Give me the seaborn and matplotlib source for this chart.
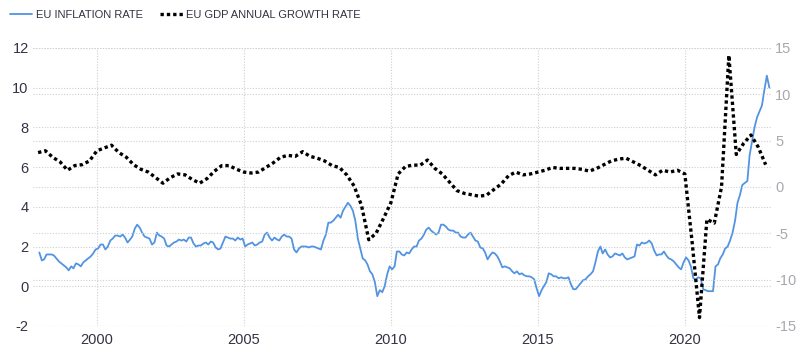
import matplotlib
matplotlib.use('Agg')
import matplotlib.pyplot as plt
import matplotlib.dates as mdates
import pandas as pd
import seaborn as sns

SET_DPI = 100
FIGSIZE = (8, 3.52)

# EU inflation rate, monthly, Jan 1998 - Nov 2022 (left axis)
inflation = [
    1.7, 1.3, 1.35, 1.6, 1.6, 1.6, 1.55, 1.4, 1.25, 1.15, 1.05, 0.95,   # 1998
    0.8, 1.0, 0.9, 1.15, 1.1, 1.0, 1.2, 1.3, 1.4, 1.5, 1.65, 1.85,      # 1999
    1.9, 2.1, 2.1, 1.85, 2.0, 2.3, 2.4, 2.55, 2.55, 2.5, 2.6, 2.45,     # 2000
    2.2, 2.35, 2.5, 2.9, 3.1, 2.95, 2.7, 2.5, 2.45, 2.4, 2.1, 2.2,      # 2001
    2.7, 2.55, 2.5, 2.4, 2.05, 2.0, 2.1, 2.2, 2.25, 2.35, 2.3, 2.35,    # 2002
    2.25, 2.45, 2.45, 2.15, 2.0, 2.05, 2.05, 2.15, 2.2, 2.1, 2.25, 2.2, # 2003
    1.95, 1.85, 1.9, 2.2, 2.5, 2.45, 2.4, 2.4, 2.3, 2.45, 2.35, 2.4,    # 2004
    2.0, 2.1, 2.15, 2.2, 2.05, 2.1, 2.2, 2.25, 2.6, 2.7, 2.45, 2.3,     # 2005
    2.45, 2.35, 2.3, 2.5, 2.6, 2.5, 2.5, 2.4, 1.85, 1.7, 1.9, 2.0,      # 2006
    2.0, 2.0, 1.95, 2.0, 2.0, 1.95, 1.9, 1.85, 2.3, 2.6, 3.2, 3.2,      # 2007
    3.3, 3.45, 3.6, 3.45, 3.8, 4.0, 4.2, 4.05, 3.8, 3.3, 2.4, 1.9,      # 2008
    1.4, 1.3, 1.1, 0.75, 0.6, 0.2, -0.5, -0.2, -0.3, 0.0, 0.6, 1.0,     # 2009
    0.85, 1.0, 1.75, 1.75, 1.6, 1.55, 1.7, 1.65, 1.85, 2.0, 2.0, 2.3,   # 2010
    2.4, 2.6, 2.85, 2.95, 2.8, 2.7, 2.6, 2.7, 3.1, 3.1, 3.0, 2.85,      # 2011
    2.8, 2.8, 2.7, 2.7, 2.5, 2.45, 2.45, 2.6, 2.7, 2.5, 2.3, 2.25,      # 2012
    1.95, 1.9, 1.7, 1.35, 1.55, 1.7, 1.65, 1.5, 1.25, 0.95, 1.0, 0.95,  # 2013
    0.9, 0.75, 0.65, 0.75, 0.6, 0.65, 0.55, 0.5, 0.5, 0.45, 0.35, -0.1, # 2014
    -0.5, -0.2, 0.0, 0.2, 0.65, 0.6, 0.5, 0.5, 0.4, 0.45, 0.4, 0.4,     # 2015
    0.45, 0.1, -0.15, -0.15, 0.0, 0.15, 0.3, 0.35, 0.5, 0.6, 0.75, 1.2, # 2016
    1.75, 2.0, 1.65, 1.85, 1.6, 1.45, 1.5, 1.65, 1.6, 1.55, 1.65, 1.45, # 2017
    1.35, 1.4, 1.45, 1.5, 2.1, 2.05, 2.2, 2.15, 2.2, 2.3, 2.15, 1.8,    # 2018
    1.55, 1.6, 1.6, 1.75, 1.55, 1.4, 1.35, 1.25, 1.1, 0.95, 0.85, 1.2,  # 2019
    1.45, 1.3, 1.0, 0.4, 0.35, 0.45, 0.4, -0.15, -0.2, -0.25, -0.25, -0.25,  # 2020
    1.0, 1.1, 1.4, 1.6, 1.9, 2.0, 2.3, 2.7, 3.3, 4.2, 4.6, 5.1,         # 2021
    5.2, 5.3, 6.6, 7.3, 8.0, 8.5, 8.8, 9.1, 9.9, 10.6, 10.0,            # 2022
]

# EU GDP annual growth rate, quarterly, Q4 1997 - Q3 2022 (right axis)
gdp_growth = [
    3.7,
    3.9, 3.2, 2.7, 1.8,      # 1998
    2.3, 2.4, 2.8, 3.9,      # 1999
    4.2, 4.5, 3.7, 3.2,      # 2000
    2.4, 1.9, 1.6, 1.0,      # 2001
    0.4, 1.0, 1.4, 1.3,      # 2002
    0.8, 0.4, 0.9, 1.7,      # 2003
    2.3, 2.3, 1.9, 1.6,      # 2004
    1.5, 1.6, 2.1, 2.6,      # 2005
    3.2, 3.4, 3.3, 3.8,      # 2006
    3.3, 3.1, 2.8, 2.3,      # 2007
    2.1, 1.3, 0.1, -2.0,     # 2008
    -5.7, -5.0, -3.4, -1.7,  # 2009
    1.4, 2.2, 2.35, 2.35,    # 2010
    2.9, 2.0, 1.4, 0.5,      # 2011
    -0.4, -0.7, -0.85, -1.0, # 2012
    -0.9, -0.3, 0.3, 1.2,    # 2013
    1.6, 1.3, 1.4, 1.6,      # 2014
    1.8, 2.1, 2.0, 2.0,      # 2015
    2.0, 1.9, 1.7, 2.0,      # 2016
    2.4, 2.8, 3.0, 3.1,      # 2017
    2.7, 2.3, 1.8, 1.3,      # 2018
    1.8, 1.6, 1.8, 1.4,      # 2019
    -6.0, -14.1, -3.5, -3.9, # 2020
    0.0, 14.2, 3.5, 4.7,     # 2021
    5.6, 4.3, 2.4,           # 2022
]

left_ticks = [-2, 0, 2, 4, 6, 8, 10, 12]
right_ticks = [-15, -10, -5, 0, 5, 10, 15]
year_ticks = [2000, 2005, 2010, 2015, 2020]

blue = '#5294e2'
grid_kw = dict(color='#cfcfcf', linewidth=0.8, linestyle=(0, (1, 1.5)))

infl_df = pd.DataFrame({
    'date': pd.date_range('1998-01-01', periods=len(inflation), freq='MS') + pd.Timedelta(days=14),
    'value': inflation,
})
gdp_df = pd.DataFrame({
    'date': pd.date_range('1997-12-31', periods=len(gdp_growth), freq='QE'),
    'value': gdp_growth,
})

sns.set_style('white')
plt.rcParams['font.family'] = ['Liberation Sans', 'DejaVu Sans']
plt.rcParams['axes.unicode_minus'] = False

fig, ax = plt.subplots(figsize=FIGSIZE, dpi=SET_DPI)
fig.subplots_adjust(left=0.041, right=0.964, top=0.864, bottom=0.074)
ax2 = ax.twinx()

sns.lineplot(data=infl_df, x='date', y='value', ax=ax, color=blue, linewidth=1.3,
             label='EU INFLATION RATE', legend=False)
sns.lineplot(data=gdp_df, x='date', y='value', ax=ax2, color='black', linewidth=2.4,
             linestyle=(0, (1, 0.9)), label='EU GDP ANNUAL GROWTH RATE', legend=False)

ax.set_ylim(-2, 12)
ax2.set_ylim(-15, 15)
ax.set_xlim(pd.Timestamp('1997-10-26'), pd.Timestamp('2022-12-08'))
ax.set_yticks(left_ticks)
ax2.set_yticks(right_ticks)
ax.set_xticks([pd.Timestamp(f'{y}-01-01') for y in year_ticks])
ax.xaxis.set_major_formatter(mdates.DateFormatter('%Y'))

ax.set_xlabel('')
ax.set_ylabel('')
ax2.set_ylabel('')

ax.grid(True, **grid_kw)
ax2.grid(True, axis='y', **grid_kw)
ax.set_axisbelow(True)
ax2.set_axisbelow(True)

for a in (ax, ax2):
    for s in a.spines.values():
        s.set_visible(False)

ax.tick_params(axis='y', length=0, pad=3, labelsize=10.5, labelcolor='#333344')
ax.tick_params(axis='x', length=0, pad=5, labelsize=10.5, labelcolor='#333344')
ax2.tick_params(axis='y', length=0, pad=3, labelsize=10.5, labelcolor='#a8a8b0')

h1, l1 = ax.get_legend_handles_labels()
h2, l2 = ax2.get_legend_handles_labels()
fig.legend(h1 + h2, l1 + l2, loc='upper left', bbox_to_anchor=(0.0, 1.0), ncol=2,
           frameon=False, fontsize=8, handlelength=2.0, columnspacing=1.6,
           handletextpad=0.3, labelcolor='#333344')

plt.savefig('out.png', dpi=SET_DPI)
plt.close()
